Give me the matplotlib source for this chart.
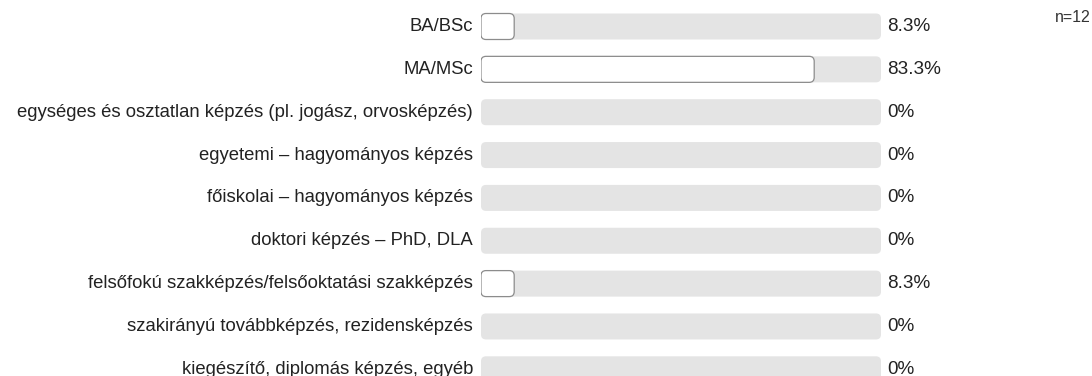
import matplotlib.pyplot as plt
from matplotlib.patches import FancyBboxPatch

categories = [
    "BA/BSc",
    "MA/MSc",
    "egységes és osztatlan képzés (pl. jogász, orvosképzés)",
    "egyetemi – hagyományos képzés",
    "főiskolai – hagyományos képzés",
    "doktori képzés – PhD, DLA",
    "felsőfokú szakképzés/felsőoktatási szakképzés",
    "szakirányú továbbképzés, rezidensképzés",
    "kiegészítő, diplomás képzés, egyéb",
]
values = [8.3, 83.3, 0, 0, 0, 0, 8.3, 0, 0]
value_labels = ["8.3%", "83.3%", "0%", "0%", "0%", "0%", "8.3%", "0%", "0%"]
n_label = "n=12"

plt.rcParams['font.family'] = ['Liberation Sans', 'DejaVu Sans']

W, H = 1092, 376
fig = plt.figure(figsize=(W / 100, H / 100), dpi=100)

# axes sits exactly where the 400px wide tracks are
ax = fig.add_axes([481 / W, 0, 400 / W, 1])
row_px = 42.85
first_px = 26.5
ax.set_xlim(0, 100)
ax.set_ylim((H - first_px) / row_px, -first_px / row_px)
ax.axis('off')

bar_h = 26 / row_px
aspect = (1 / row_px) / (100 / 400)
rad = 5 * 100 / 400
px = 0.72  # points per pixel at dpi 100

for i, (cat, v, lab) in enumerate(zip(categories, values, value_labels)):
    track = FancyBboxPatch((0, i - bar_h / 2), 100, bar_h,
                           boxstyle=f"round,pad=0,rounding_size={rad}",
                           mutation_aspect=aspect, facecolor='#e4e4e4',
                           edgecolor='none', zorder=1)
    ax.add_patch(track)
    if v > 0:
        bar = FancyBboxPatch((0, i - bar_h / 2), v, bar_h,
                             boxstyle=f"round,pad=0,rounding_size={rad}",
                             mutation_aspect=aspect, facecolor='white',
                             edgecolor='#8c8c8c', linewidth=0.9, zorder=2)
        ax.add_patch(bar)
    ax.annotate(cat, (0, i), xytext=(-8 * px, 0), textcoords='offset points',
                ha='right', va='center', fontsize=13.3, color='#222222')
    ax.annotate(lab, (100, i), xytext=(6 * px, 0), textcoords='offset points',
                ha='left', va='center', fontsize=13.6, color='#222222')

fig.text(1091 / W, 1 - 17 / H, n_label, ha='right', va='center',
         fontsize=11.5, color='#333333')

fig.savefig("out.png", dpi=100)
